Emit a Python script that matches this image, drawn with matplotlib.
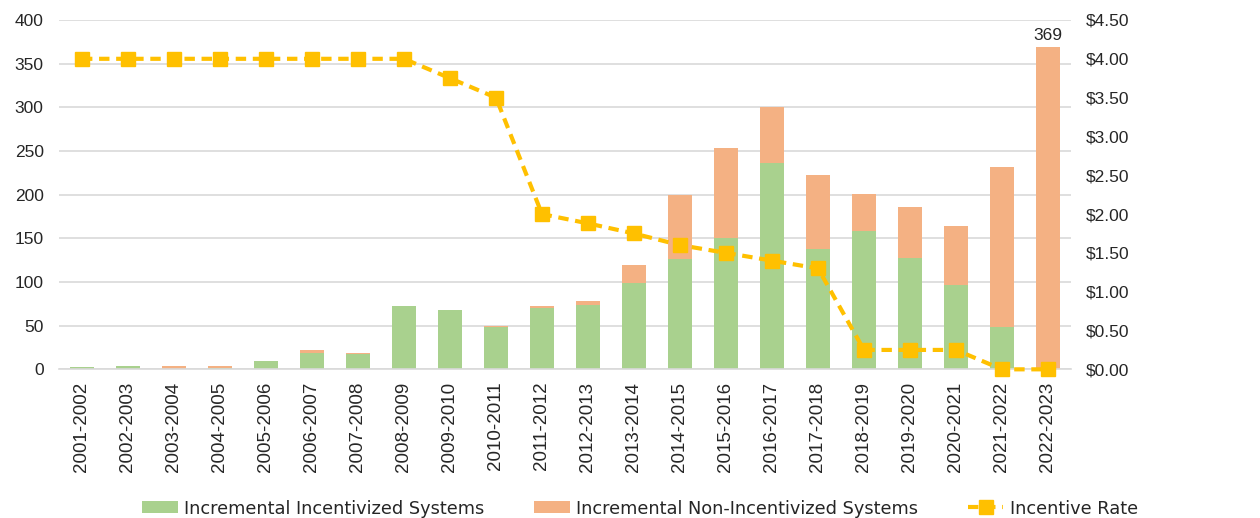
import matplotlib
matplotlib.use("Agg")
import matplotlib.pyplot as plt
import numpy as np

categories = ["2001-2002", "2002-2003", "2003-2004", "2004-2005", "2005-2006",
              "2006-2007", "2007-2008", "2008-2009", "2009-2010", "2010-2011",
              "2011-2012", "2012-2013", "2013-2014", "2014-2015", "2015-2016",
              "2016-2017", "2017-2018", "2018-2019", "2019-2020", "2020-2021",
              "2021-2022", "2022-2023"]
incentivized = [3, 4, 0, 2, 9, 19, 17, 72, 68, 48, 70, 74, 99, 126, 150, 236,
                138, 158, 128, 97, 48, 0]
non_incentivized = [0, 0, 4, 2, 0, 3, 2, 0, 0, 2, 2, 4, 20, 74, 104, 64,
                    84, 43, 58, 67, 184, 369]
incentive_rate = [4.00, 4.00, 4.00, 4.00, 4.00, 4.00, 4.00, 4.00, 3.75, 3.50,
                  2.00, 1.88, 1.75, 1.60, 1.50, 1.40, 1.30, 0.25, 0.25, 0.25,
                  0.00, 0.00]
left_ticks = [0, 50, 100, 150, 200, 250, 300, 350, 400]
right_ticks = [0, 0.5, 1.0, 1.5, 2.0, 2.5, 3.0, 3.5, 4.0, 4.5]

GREEN = "#A9D18E"
ORANGE = "#F4B183"
YELLOW = "#FFC000"
GRID = "#D9D9D9"
TXT = "#262626"

plt.rcParams['font.family'] = ['Liberation Sans', 'DejaVu Sans']

fig = plt.figure(figsize=(12.6, 5.18), dpi=100)
ax = fig.add_axes([0.0468, 0.287, 0.8032, 0.6744])
x = np.arange(len(categories))
w = 0.52
ax.bar(x, incentivized, width=w, color=GREEN, label="Incremental Incentivized Systems", zorder=2)
ax.bar(x, non_incentivized, width=w, bottom=incentivized, color=ORANGE,
       label="Incremental Non-Incentivized Systems", zorder=2)

ax.set_xlim(-0.5, len(categories) - 0.5)
ax.set_ylim(0, 400)
ax.set_yticks(left_ticks)
ax.yaxis.grid(True, color=GRID, linewidth=1.2, zorder=0)
ax.set_axisbelow(True)
for s in ["top", "right", "left"]:
    ax.spines[s].set_visible(False)
ax.spines["bottom"].set_color(GRID)
ax.spines["bottom"].set_linewidth(1.2)
ax.tick_params(axis="both", length=0, labelcolor=TXT)
ax.tick_params(axis="y", pad=11, labelsize=12.5)
ax.set_xticks(x)
ax.set_xticklabels(categories, rotation=90)
ax.tick_params(axis="x", pad=9, labelsize=13.5)

total_last = incentivized[-1] + non_incentivized[-1]
ax.text(x[-1], total_last + 5, str(total_last), ha="center", va="bottom", fontsize=12.5, color=TXT)

ax2 = ax.twinx()
ax2.set_ylim(0, 4.5)
ax2.set_yticks(right_ticks)
ax2.set_yticklabels([f"${v:.2f}" for v in right_ticks])
for s in ax2.spines.values():
    s.set_visible(False)
ax2.tick_params(axis="y", length=0, labelsize=12.5, labelcolor=TXT, pad=11)
line, = ax2.plot(x, incentive_rate, color=YELLOW, linewidth=3, linestyle=(0, (2.5, 1.6)),
                 marker="s", markersize=10, label="Incentive Rate", zorder=3,
                 clip_on=False)

h1, l1 = ax.get_legend_handles_labels()
h2, l2 = ax2.get_legend_handles_labels()
leg = fig.legend(h1 + h2, l1 + l2, loc="lower center", ncol=3, frameon=False,
                 bbox_to_anchor=(0.508, -0.03), handlelength=2.0,
                 handleheight=0.65, columnspacing=2.8, handletextpad=0.35,
                 prop={'family': ['DejaVu Sans'], 'size': 12.8})
for t in leg.get_texts():
    t.set_color(TXT)

fig.savefig("out.png", dpi=100)
